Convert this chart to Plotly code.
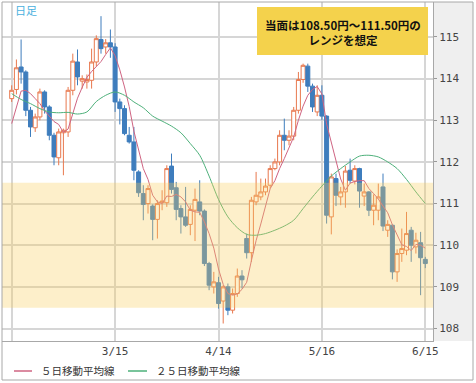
import plotly.graph_objects as go
import pandas as pd

# ---- data (USD/JPY daily) ----
dates = pd.bdate_range("2017-02-13", periods=89).strftime("%Y-%m-%d").tolist()

open_ = [113.52, 113.74, 114.28, 114.16, 113.24, 112.82, 113.08, 113.68, 113.32, 112.64,
         112.10, 112.70, 112.72, 113.72, 114.40, 113.94, 113.92, 113.96, 114.40, 114.94,
         114.76, 114.86, 114.76, 113.44, 113.28, 112.64, 112.48, 111.76, 111.24, 111.00,
         110.94, 110.62, 111.02, 111.02, 111.90, 111.38, 110.88, 110.68, 110.50, 110.84,
         111.04, 110.82, 109.56, 109.00, 109.10, 108.66, 109.00, 108.44, 108.84, 109.26,
         110.16, 109.82, 111.04, 111.16, 111.28, 111.44, 111.84, 112.00, 112.64, 112.52,
         112.62, 113.24, 113.98, 114.30, 113.82, 113.20, 113.60, 113.10, 110.68, 111.60,
         111.16, 111.28, 111.80, 111.54, 111.84, 111.18, 111.28, 110.84, 110.84, 111.40,
         110.36, 110.48, 109.36, 109.80, 109.88, 110.36, 109.96, 110.06, 109.66]
high = [113.84, 114.46, 114.94, 114.20, 113.32, 113.16, 113.76, 113.72, 113.36, 112.70,
        112.80, 112.80, 113.80, 114.60, 114.70, 114.08, 114.10, 114.72, 115.04, 115.50,
        114.95, 115.18, 114.85, 113.52, 113.36, 112.84, 112.84, 111.80, 111.44, 111.44,
        110.98, 111.08, 111.32, 111.92, 112.20, 111.52, 110.96, 111.40, 110.96, 111.36,
        111.56, 110.86, 109.60, 109.36, 109.24, 109.04, 109.08, 108.96, 109.44, 109.40,
        110.28, 111.16, 111.76, 111.60, 111.60, 111.92, 112.08, 112.76, 113.04, 112.76,
        113.32, 114.16, 114.36, 114.36, 113.88, 113.84, 113.84, 113.12, 111.72, 111.72,
        111.40, 111.90, 112.08, 111.92, 111.86, 111.48, 111.30, 111.22, 111.48, 111.72,
        110.60, 110.50, 109.90, 110.40, 110.80, 110.44, 110.30, 110.32, 109.72]
low = [113.44, 113.62, 113.88, 113.10, 112.60, 112.72, 113.00, 113.16, 112.52, 111.92,
       111.92, 111.68, 112.60, 113.60, 113.84, 113.76, 113.76, 113.76, 114.30, 114.60,
       114.60, 114.50, 113.20, 112.90, 112.64, 112.44, 111.56, 111.16, 110.60, 110.76,
       110.12, 110.16, 110.84, 110.92, 111.24, 110.60, 110.28, 110.44, 110.24, 110.10,
       110.72, 109.50, 108.92, 108.84, 108.48, 108.12, 108.32, 108.36, 108.76, 108.96,
       109.68, 109.60, 110.96, 111.08, 111.20, 111.36, 111.80, 111.92, 112.28, 112.40,
       112.52, 113.16, 113.90, 113.68, 113.20, 113.10, 113.00, 110.52, 110.26, 110.94,
       110.96, 110.90, 111.48, 111.46, 110.90, 110.94, 110.70, 110.48, 110.60, 110.34,
       110.20, 109.18, 109.12, 109.60, 109.76, 109.60, 109.80, 108.80, 109.45]
close = [113.72, 114.26, 114.16, 113.24, 112.84, 113.08, 113.68, 113.32, 112.64, 112.12,
         112.72, 112.76, 113.72, 114.42, 114.04, 114.00, 113.98, 114.40, 114.96, 114.72,
         114.86, 114.76, 113.44, 113.28, 112.68, 112.48, 111.80, 111.26, 110.98, 111.36,
         110.62, 111.00, 111.06, 111.84, 111.34, 110.86, 110.68, 110.48, 110.86, 111.10,
         110.82, 109.56, 109.04, 109.12, 108.60, 109.00, 108.44, 108.84, 109.26, 109.17,
         109.82, 111.08, 111.20, 111.28, 111.42, 111.84, 112.00, 112.64, 112.52, 112.62,
         113.24, 113.98, 114.32, 113.82, 113.32, 113.60, 113.10, 110.72, 111.64, 111.20,
         111.28, 111.78, 111.56, 111.84, 111.30, 111.28, 110.84, 110.96, 111.16, 110.46,
         110.50, 109.36, 109.80, 109.92, 110.28, 110.00, 110.12, 109.70, 109.56]

# 5-day moving average, one value per candle
ma5 = [112.92, 113.30, 113.70, 113.72, 113.64, 113.52, 113.40, 113.23, 113.11, 112.97,
       112.90, 112.71, 112.79, 113.15, 113.53, 113.79, 114.03, 114.17, 114.28, 114.41,
       114.58, 114.74, 114.55, 114.21, 113.80, 113.33, 112.74, 112.30, 111.84, 111.58,
       111.20, 111.04, 111.00, 111.18, 111.17, 111.22, 111.16, 111.04, 110.84, 110.80,
       110.79, 110.56, 110.28, 109.93, 109.43, 109.06, 108.84, 108.80, 108.83, 108.94,
       109.11, 109.63, 110.11, 110.51, 110.96, 111.36, 111.55, 111.84, 112.08, 112.32,
       112.60, 113.00, 113.34, 113.60, 113.74, 113.81, 113.63, 112.91, 112.48, 112.05,
       111.59, 111.32, 111.49, 111.53, 111.55, 111.55, 111.36, 111.24, 111.11, 110.94,
       110.78, 110.49, 110.26, 110.01, 109.97, 109.87, 110.02, 110.00, 109.93]

# 25-day moving average, read every second candle
ma25_dates = dates[::2]
ma25 = [113.64, 113.50, 113.40, 113.28, 113.20, 113.18, 113.19, 113.15, 113.20, 113.45,
        113.60, 113.68, 113.60, 113.44, 113.30, 113.10, 112.98, 112.86, 112.70, 112.44,
        112.16, 111.66, 111.10, 110.68, 110.42, 110.26, 110.24, 110.28, 110.36, 110.46,
        110.60, 110.88, 111.16, 111.42, 111.66, 111.84, 112.00, 112.14, 112.16, 112.12,
        112.00, 111.84, 111.58, 111.28, 111.00]

tick_dates = ["2017-02-13", "2017-03-15", "2017-04-14", "2017-05-16", "2017-06-15"]
tick_text = ["", "3/15", "4/14", "5/16", "6/15"]
y_ticks = [108, 109, 110, 111, 112, 113, 114, 115]
band_low, band_high = 108.5, 111.5
note_text = "当面は108.50円～111.50円の<br>レンジを想定"
legend_names = ["５日移動平均線", "２５日移動平均線"]

# ---- figure ----
W, H = 476, 383
ML, MR, MT, MB = 2, 43, 2, 42
PW, PH = W - ML - MR, H - MT - MB

def px_x(X):
    return (X - ML) / PW

def px_y(Y):
    return (H - MB - Y) / PH

UP = "#E8784E"
DOWN = "#3E7DBD"
MA5C = "#CF6482"
MA25C = "#4DB07A"
GRID = "#d6d6d6"
FRAME = "#a8a8a8"
JP = "Noto Sans CJK JP"
MONO = "DejaVu Sans Mono"

fig = go.Figure()
fig.add_trace(go.Candlestick(
    x=dates, open=open_, high=high, low=low, close=close,
    increasing=dict(line=dict(color=UP, width=1), fillcolor="white"),
    decreasing=dict(line=dict(color=DOWN, width=1), fillcolor=DOWN),
    whiskerwidth=0, showlegend=False, hoverinfo="skip"))
fig.add_trace(go.Scatter(x=dates, y=ma5, mode="lines",
                         line=dict(color=MA5C, width=1), showlegend=False, hoverinfo="skip"))
fig.add_trace(go.Scatter(x=ma25_dates, y=ma25, mode="lines",
                         line=dict(color=MA25C, width=1, shape="spline", smoothing=0.8),
                         showlegend=False, hoverinfo="skip"))

shapes = [
    # right axis panel
    dict(type="rect", xref="paper", yref="paper", x0=1, x1=px_x(473), y0=0, y1=1,
         fillcolor="#efefef", line=dict(width=0), layer="below"),
    # range band
    dict(type="rect", xref="paper", yref="y", x0=0, x1=1, y0=band_low, y1=band_high,
         fillcolor="rgba(250,205,95,0.33)", line=dict(width=0), layer="above"),
    # note box
    dict(type="rect", xref="paper", yref="paper", x0=px_x(257), x1=px_x(428),
         y0=px_y(55), y1=px_y(7), fillcolor="#f4d24c", line=dict(width=0), layer="above"),
    # outer frame
    dict(type="rect", xref="paper", yref="paper", x0=0, x1=px_x(473),
         y0=px_y(380), y1=1, line=dict(color=FRAME, width=1), fillcolor="rgba(0,0,0,0)",
         layer="above"),
    # legend lines
    dict(type="line", xref="paper", yref="paper", x0=px_x(14), x1=px_x(32),
         y0=px_y(371), y1=px_y(371), line=dict(color=MA5C, width=1.5)),
    dict(type="line", xref="paper", yref="paper", x0=px_x(128), x1=px_x(147),
         y0=px_y(371), y1=px_y(371), line=dict(color=MA25C, width=1.5)),
]

annotations = [
    dict(text="日足", xref="paper", yref="paper", x=px_x(13), y=px_y(10),
         xanchor="left", yanchor="middle", showarrow=False,
         font=dict(family=JP, size=11, color="#4ab0de")),
    dict(text=note_text, xref="paper", yref="paper", x=px_x(342.5), y=px_y(33),
         xanchor="center", yanchor="middle", showarrow=False, align="center",
         font=dict(family=JP, size=11.5, color="#111111", weight="bold")),
    dict(text=legend_names[0], xref="paper", yref="paper", x=px_x(39), y=px_y(371),
         xanchor="left", yanchor="middle", showarrow=False,
         font=dict(family=JP, size=10.5, color="#333333")),
    dict(text=legend_names[1], xref="paper", yref="paper", x=px_x(154), y=px_y(371),
         xanchor="left", yanchor="middle", showarrow=False,
         font=dict(family=JP, size=10.5, color="#333333")),
]

n = len(dates)
step = (425.3 - 11.7) / (n - 1)
r0 = -(11.7 - ML) / step
r1 = r0 + PW / step

fig.update_layout(
    width=W, height=H,
    margin=dict(l=ML, r=MR, t=MT, b=MB, pad=0),
    paper_bgcolor="white", plot_bgcolor="white",
    shapes=shapes, annotations=annotations,
    showlegend=False,
    boxgap=0.15, boxgroupgap=0,
    xaxis=dict(type="category", range=[r0, r1], tickmode="array",
               tickvals=tick_dates, ticktext=tick_text, showgrid=True,
               gridcolor=GRID, gridwidth=1.5, showline=True, linecolor=FRAME,
               linewidth=1, ticks="", zeroline=False, rangeslider=dict(visible=False),
               tickfont=dict(family=MONO, size=11, color="#444444"), fixedrange=True),
    yaxis=dict(side="right", range=[107.70, 115.84], tickmode="array",
               tickvals=y_ticks, ticktext=[str(v) for v in y_ticks], showgrid=True,
               gridcolor=GRID, gridwidth=1.5, showline=True, linecolor=FRAME,
               linewidth=1, ticks="outside", ticklen=3, tickcolor="#999999",
               zeroline=False, tickfont=dict(family=MONO, size=11, color="#444444"),
               fixedrange=True),
)

fig.write_html("out.html", config={"displayModeBar": False},
               post_script="document.body.style.margin='0';document.body.style.overflow='hidden';")
